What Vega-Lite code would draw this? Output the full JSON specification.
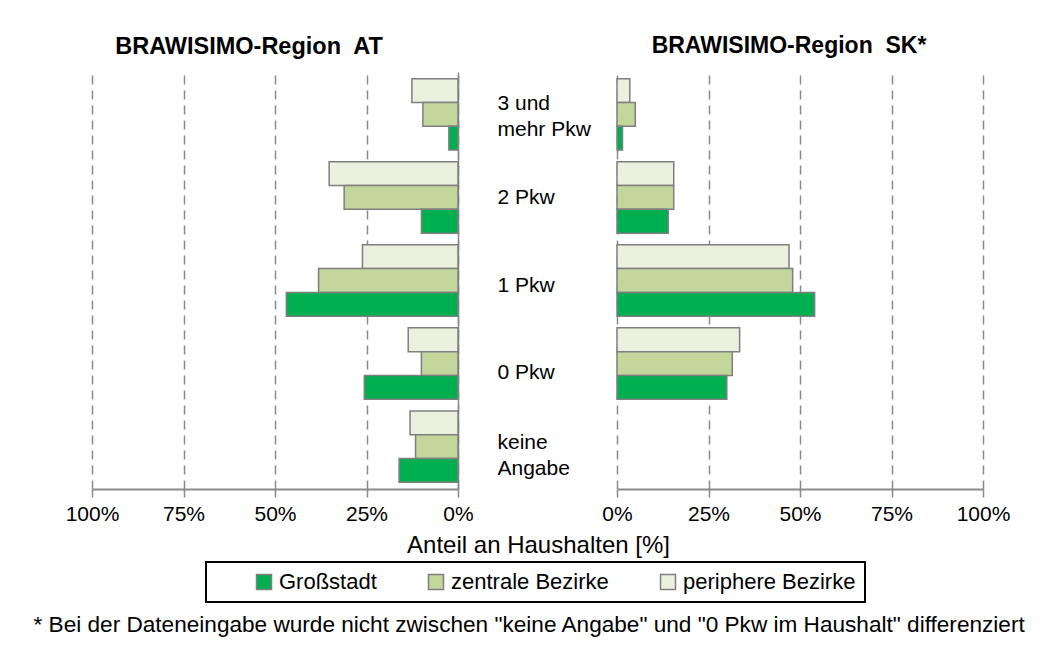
{
  "$schema": "https://vega.github.io/schema/vega-lite/v6.json",
  "autosize": {"type": "none"},
  "padding": {"left": 92, "top": 72, "right": 965, "bottom": 578},
  "background": "white",
  "datasets": {
    "at": [
      {"kategorie": "3 und|mehr Pkw", "typ": "periphere Bezirke", "anteil": 12.6},
      {"kategorie": "3 und|mehr Pkw", "typ": "zentrale Bezirke", "anteil": 9.6},
      {"kategorie": "3 und|mehr Pkw", "typ": "Großstadt", "anteil": 2.5},
      {"kategorie": "2 Pkw", "typ": "periphere Bezirke", "anteil": 35.2},
      {"kategorie": "2 Pkw", "typ": "zentrale Bezirke", "anteil": 31.1},
      {"kategorie": "2 Pkw", "typ": "Großstadt", "anteil": 10.0},
      {"kategorie": "1 Pkw", "typ": "periphere Bezirke", "anteil": 26.1},
      {"kategorie": "1 Pkw", "typ": "zentrale Bezirke", "anteil": 38.1},
      {"kategorie": "1 Pkw", "typ": "Großstadt", "anteil": 46.9},
      {"kategorie": "0 Pkw", "typ": "periphere Bezirke", "anteil": 13.6},
      {"kategorie": "0 Pkw", "typ": "zentrale Bezirke", "anteil": 10.0},
      {"kategorie": "0 Pkw", "typ": "Großstadt", "anteil": 25.6},
      {"kategorie": "keine|Angabe", "typ": "periphere Bezirke", "anteil": 13.1},
      {"kategorie": "keine|Angabe", "typ": "zentrale Bezirke", "anteil": 11.6},
      {"kategorie": "keine|Angabe", "typ": "Großstadt", "anteil": 16.1}
    ],
    "sk": [
      {"kategorie": "3 und|mehr Pkw", "typ": "periphere Bezirke", "anteil": 3.5},
      {"kategorie": "3 und|mehr Pkw", "typ": "zentrale Bezirke", "anteil": 5.0},
      {"kategorie": "3 und|mehr Pkw", "typ": "Großstadt", "anteil": 1.5},
      {"kategorie": "2 Pkw", "typ": "periphere Bezirke", "anteil": 15.5},
      {"kategorie": "2 Pkw", "typ": "zentrale Bezirke", "anteil": 15.5},
      {"kategorie": "2 Pkw", "typ": "Großstadt", "anteil": 14.0},
      {"kategorie": "1 Pkw", "typ": "periphere Bezirke", "anteil": 47.0},
      {"kategorie": "1 Pkw", "typ": "zentrale Bezirke", "anteil": 48.0},
      {"kategorie": "1 Pkw", "typ": "Großstadt", "anteil": 54.0},
      {"kategorie": "0 Pkw", "typ": "periphere Bezirke", "anteil": 33.5},
      {"kategorie": "0 Pkw", "typ": "zentrale Bezirke", "anteil": 31.5},
      {"kategorie": "0 Pkw", "typ": "Großstadt", "anteil": 30.0}
    ]
  },
  "hconcat": [
    {
      "width": 366,
      "height": 417,
      "data": {"name": "at"},
      "title": {"text": "BRAWISIMO-Region\u00a0 AT", "dx": -26, "fontSize": 23.5},
      "mark": {"type": "bar", "stroke": "#7f7f7f", "strokeWidth": 1.5},
      "encoding": {
        "y": {
          "field": "kategorie", "type": "nominal",
          "scale": {"domain": ["3 und|mehr Pkw", "2 Pkw", "1 Pkw", "0 Pkw", "keine|Angabe"], "paddingInner": 0.14, "paddingOuter": 0.08},
          "axis": {"orient": "right", "labels": false, "ticks": false, "domain": true, "domainColor": "#8a8a8a", "domainWidth": 1.5, "grid": false, "title": null}
        },
        "yOffset": {
          "field": "typ", "type": "nominal",
          "scale": {"domain": ["periphere Bezirke", "zentrale Bezirke", "Großstadt"], "paddingInner": 0, "paddingOuter": 0}
        },
        "x": {
          "field": "anteil", "type": "quantitative",
          "scale": {"domain": [0, 100], "reverse": true, "nice": false},
          "axis": {
            "values": [0, 25, 50, 75, 100], "labelExpr": "datum.value + '%'",
            "title": "Anteil an Haushalten [%]",
            "titleX": 446, "titleY": 63, "titleAlign": "center", "titleBaseline": "alphabetic",
            "titleFontSize": 24
          }
        },
        "color": {
          "field": "typ", "type": "nominal",
          "scale": {"domain": ["Großstadt", "zentrale Bezirke", "periphere Bezirke"], "range": ["#00B050", "#C3D69B", "#EBF1DE"]},
          "legend": {"orient": "none", "legendX": 114, "legendY": 490, "direction": "horizontal", "title": "\u00a0", "titleOrient": "left", "titlePadding": 38, "titleFontSize": 12}
        }
      }
    },
    {
      "width": 366,
      "height": 417,
      "data": {"name": "sk"},
      "title": {"text": "BRAWISIMO-Region\u00a0 SK*", "dx": -11},
      "mark": {"type": "bar", "stroke": "#7f7f7f", "strokeWidth": 1.5},
      "encoding": {
        "y": {
          "field": "kategorie", "type": "nominal",
          "scale": {"domain": ["3 und|mehr Pkw", "2 Pkw", "1 Pkw", "0 Pkw", "keine|Angabe"], "paddingInner": 0.14, "paddingOuter": 0.08},
          "axis": {
            "orient": "left", "labelAlign": "left", "labelPadding": 120, "labelBaseline": "middle",
            "labelFontSize": 21, "labelLineHeight": 26, "labelExpr": "split(datum.label, '|')",
            "labelOffset": {
              "condition": [
                {"test": "datum.value == '3 und|mehr Pkw'", "value": -10},
                {"test": "datum.value == 'keine|Angabe'", "value": -4},
                {"test": "datum.value == '1 Pkw'", "value": 5},
                {"test": "datum.value == '0 Pkw'", "value": 9}
              ],
              "value": 1
            },
            "ticks": false, "domain": false, "grid": false, "title": null, "labelLimit": 300
          }
        },
        "yOffset": {
          "field": "typ", "type": "nominal",
          "scale": {"domain": ["periphere Bezirke", "zentrale Bezirke", "Großstadt"], "paddingInner": 0, "paddingOuter": 0}
        },
        "x": {
          "field": "anteil", "type": "quantitative",
          "scale": {"domain": [0, 100], "nice": false},
          "axis": {
            "values": [0, 25, 50, 75, 100], "labelExpr": "datum.value + '%'",
            "title": "* Bei der Dateneingabe wurde nicht zwischen \"keine Angabe\" und \"0 Pkw im Haushalt\" differenziert",
            "titleX": -584, "titleY": 142, "titleAlign": "left", "titleBaseline": "alphabetic",
            "titleFontSize": 22.6, "titleLimit": 2000
          }
        },
        "color": {
          "field": "typ", "type": "nominal",
          "scale": {"domain": ["Großstadt", "zentrale Bezirke", "periphere Bezirke"], "range": ["#00B050", "#C3D69B", "#EBF1DE"]},
          "legend": {"orient": "none", "legendX": 114, "legendY": 490, "direction": "horizontal", "title": "\u00a0", "titleOrient": "left", "titlePadding": 38, "titleFontSize": 12}
        }
      }
    }
  ],
  "spacing": 159,
  "bounds": "flush",
  "resolve": {"scale": {"x": "independent", "y": "independent", "yOffset": "independent", "color": "shared"}},
  "config": {
    "font": "Liberation Sans",
    "view": {"stroke": null},
    "title": {"font": "Liberation Sans", "fontSize": 23, "fontWeight": "bold", "color": "black", "anchor": "middle", "baseline": "alphabetic", "offset": 14},
    "axis": {"labelFont": "Liberation Sans", "labelColor": "black", "labelFontSize": 21, "titleFont": "Liberation Sans", "titleColor": "black", "titleFontWeight": "normal"},
    "axisX": {
      "grid": true, "gridColor": "#8a8a8a", "gridDash": [9, 6], "gridWidth": 1.5,
      "domainColor": "#8a8a8a", "domainWidth": 2,
      "tickColor": "#8a8a8a", "tickSize": 8, "tickWidth": 1.5,
      "labelPadding": 6, "labelFlush": false, "labelOverlap": false
    },
    "legend": {
      "symbolType": "square", "symbolSize": 225, "symbolStrokeColor": "#7f7f7f", "symbolStrokeWidth": 1.5,
      "labelFont": "Liberation Sans", "labelFontSize": 22, "labelColor": "black", "labelOffset": 4, "labelLimit": 400,
      "strokeColor": "black", "strokeWidth": 2, "padding": 9, "columnPadding": 48
    }
  }
}
